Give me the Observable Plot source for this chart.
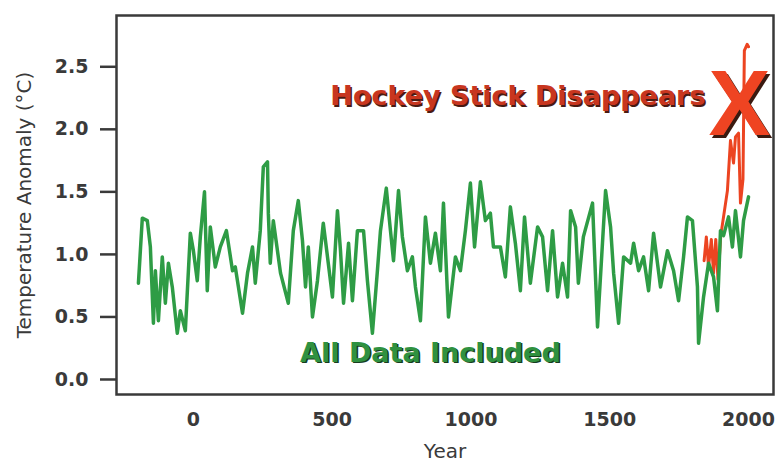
<!DOCTYPE html>
<html>
<head>
<meta charset="utf-8">
<script src="https://cdn.jsdelivr.net/npm/d3@7"></script>
<script src="https://cdn.jsdelivr.net/npm/@observablehq/plot@0.6"></script>
<style>
  html, body { margin: 0; padding: 0; background: #fff; }
  #chart { width: 775px; height: 461px; }
</style>
</head>
<body>
<div id="chart"></div>
<script>
// ---- data ----
const greenYears = [-198,-184,-166,-155,-144,-137,-126,-112,-101,-90,-76,-58,-47,-29,-11,0,14,25,40,50,61,79,97,119,141,151,177,195,213,223,241,252,267,270,277,288,314,342,360,378,393,404,414,429,447,468,486,501,519,530,541,559,573,591,613,627,645,663,674,695,710,721,739,753,771,789,800,818,836,854,872,890,901,919,944,962,980,998,1013,1034,1052,1070,1081,1106,1124,1142,1160,1178,1193,1214,1240,1258,1276,1294,1312,1330,1348,1359,1377,1387,1405,1438,1456,1485,1503,1514,1532,1550,1575,1586,1604,1622,1640,1658,1683,1708,1730,1748,1766,1780,1798,1816,1820,1838,1856,1874,1888,1899,1910,1928,1942,1953,1971,1982,2000];
const greenValues = [0.77,1.29,1.27,1.06,0.45,0.87,0.47,0.98,0.61,0.93,0.74,0.37,0.55,0.39,1.17,1.03,0.79,1.14,1.50,0.71,1.22,0.90,1.06,1.19,0.87,0.90,0.53,0.85,1.06,0.77,1.19,1.70,1.74,1.33,0.93,1.27,0.85,0.61,1.19,1.43,1.11,0.74,1.06,0.50,0.79,1.25,0.93,0.66,1.35,1.03,0.61,1.09,0.63,1.19,1.19,0.79,0.37,0.87,1.19,1.53,1.19,0.95,1.51,1.14,0.87,0.98,0.74,0.47,1.30,0.93,1.17,0.87,1.41,0.50,0.98,0.87,1.19,1.57,1.06,1.58,1.27,1.33,1.06,1.06,0.82,1.38,1.09,0.71,1.30,0.77,1.22,1.14,0.71,1.19,0.66,0.93,0.66,1.35,1.22,0.77,1.14,1.41,0.42,1.51,1.22,0.85,0.45,0.98,0.93,1.09,0.87,0.98,0.71,1.17,0.74,1.03,0.87,0.63,0.98,1.30,1.27,0.74,0.29,0.66,0.93,0.82,0.55,1.19,1.15,1.30,1.06,1.35,0.98,1.27,1.46];
const redYears = [1840,1848,1856,1866,1874,1882,1890,1900,1910,1924,1935,1946,1953,1964,1971,1980,1985,1995,2000];
const redValues = [0.95,1.14,0.90,1.12,0.85,1.12,0.80,1.15,1.30,1.51,1.91,1.73,1.94,1.97,1.41,1.60,2.63,2.68,2.66];
const xTicks = [0, 500, 1000, 1500, 2000];
const yTicks = [0, 0.5, 1.0, 1.5, 2.0, 2.5];
const yLabel = "Temperature Anomaly (°C)";
const xLabel = "Year";
const redNote = "Hockey Stick Disappears";
const crossMark = "X";
const greenNote = "All Data Included";

const green = greenYears.map((year, i) => ({year, value: greenValues[i]}));
const red = redYears.map((year, i) => ({year, value: redValues[i]}));

const chart = Plot.plot({
  width: 775,
  height: 461,
  marginLeft: 116,
  marginRight: 2,
  marginTop: 15,
  marginBottom: 67,
  style: {fontFamily: "DejaVu Sans", background: "#fff"},
  x: {domain: [-277, 2090]},
  y: {domain: [-0.12, 2.91]},
  marks: [
    Plot.axisY({ticks: yTicks, tickFormat: d3.format(".1f"), tickSize: 16, tickPadding: 12,
      fontSize: 19, fontWeight: "bold", color: "#3a3a3a", strokeWidth: 2.5,
      label: yLabel, labelAnchor: "center", labelOffset: 100, labelArrow: "none"}),
    Plot.axisX({ticks: xTicks, tickFormat: d => String(d), tickSize: 0, tickPadding: 18,
      fontSize: 19, fontWeight: "bold", color: "#3a3a3a",
      label: xLabel, labelAnchor: "center", labelOffset: 63, labelArrow: "none"}),
    Plot.line(red, {x: "year", y: "value", stroke: "#ec4421", strokeWidth: 3, curve: "linear", strokeLinejoin: "round"}),
    Plot.line(green, {x: "year", y: "value", stroke: "#2e9c45", strokeWidth: 3.5, curve: "linear", strokeLinejoin: "round"}),
    Plot.frame({stroke: "#3a3a3a", strokeWidth: 2.5}),
    Plot.text([redNote], {x: 1845, y: 2.26, text: d => d, textAnchor: "end", fontSize: 27, fontWeight: "bold", fill: "#4a1a12", dx: 1.5, dy: 1.5}),
    Plot.text([redNote], {x: 1845, y: 2.26, text: d => d, textAnchor: "end", fontSize: 27, fontWeight: "bold", fill: "#c8361f"}),
    Plot.text([greenNote], {x: 854, y: 0.21, text: d => d, fontSize: 27, fontWeight: "bold", fill: "#173d1e", dx: 1.5, dy: 1.5}),
    Plot.text([greenNote], {x: 854, y: 0.21, text: d => d, fontSize: 27, fontWeight: "bold", fill: "#2f9140"}),
    Plot.text([crossMark], {x: 1968, y: 2.19, text: d => d, fontSize: 93, fontWeight: "bold", fontFamily: "Liberation Sans", fill: "#3a1a10", dx: 2.5, dy: 2.5}),
    Plot.text([crossMark], {x: 1968, y: 2.19, text: d => d, fontSize: 93, fontWeight: "bold", fontFamily: "Liberation Sans", fill: "#ef4422"})
  ]
});
document.getElementById("chart").appendChild(chart);
const svg = d3.select(chart);
svg.selectAll('g[aria-label="y-axis label"] text, g[aria-label="x-axis label"] text')
  .attr("font-weight", "normal").attr("font-size", 20)
  .each(function() {
    const t = d3.select(this);
    t.text(t.text().replace(/\s*[↑→←↓]\s*/g, "").trim());
  });
</script>
</body>
</html>
